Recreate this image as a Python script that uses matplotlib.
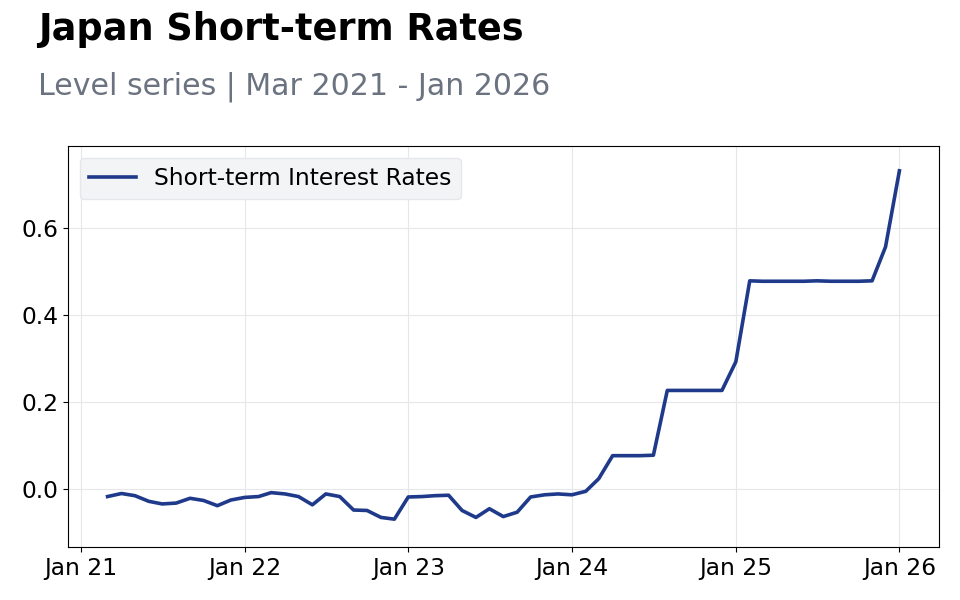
import matplotlib
matplotlib.use("Agg")
import matplotlib.pyplot as plt
import matplotlib.dates as mdates
import pandas as pd

# monthly values, Mar 2021 - Jan 2026
dates = pd.date_range("2021-03-01", "2026-01-01", freq="MS")
rates = [
    -0.017, -0.010, -0.015, -0.028, -0.034, -0.032, -0.021, -0.026, -0.038, -0.025,  # 2021
    -0.019, -0.017, -0.008, -0.011, -0.017, -0.036, -0.011, -0.017, -0.048, -0.049, -0.065, -0.069,  # 2022
    -0.018, -0.017, -0.015, -0.014, -0.049, -0.065, -0.045, -0.063, -0.053, -0.018, -0.013, -0.011,  # 2023
    -0.013, -0.005, 0.024, 0.077, 0.077, 0.077, 0.078, 0.227, 0.227, 0.227, 0.227, 0.227,  # 2024
    0.293, 0.479, 0.478, 0.478, 0.478, 0.478, 0.479, 0.478, 0.478, 0.478, 0.479, 0.557,  # 2025
    0.732,  # 2026
]
series_name = "Short-term Interest Rates"

fig = plt.figure(figsize=(9.6, 6), dpi=100)
ax = fig.add_axes([68 / 960, 1 - 547 / 600, (939 - 68) / 960, (547 - 146) / 600])

ax.plot(dates, rates, color="#1f3a8a", linewidth=2.6, label=series_name)

ax.set_ylim(-0.133, 0.789)
ax.xaxis.set_major_locator(mdates.YearLocator())
ax.xaxis.set_major_formatter(mdates.DateFormatter("%b %y"))
ax.tick_params(labelsize=16.8)
ax.grid(True, color="#e5e7eb", linewidth=0.8)

leg = ax.legend(loc="upper left", fontsize=16.8, frameon=True, fancybox=True)
leg.get_frame().set_facecolor("#f3f4f6")
leg.get_frame().set_edgecolor("#e5e7eb")
leg.get_frame().set_alpha(1)

fig.text(38 / 960, 1 - 11 / 600, "Japan Short-term Rates", fontsize=26.4,
         fontweight="bold", va="top", ha="left")
fig.text(38 / 960, 1 - 72 / 600, "Level series | Mar 2021 - Jan 2026", fontsize=21.6,
         color="#6b7280", va="top", ha="left")

fig.savefig("out.png", dpi=100)
plt.close(fig)
